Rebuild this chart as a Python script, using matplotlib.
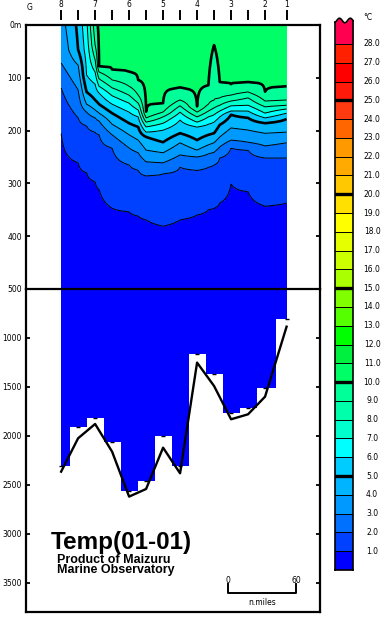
import matplotlib.pyplot as plt
import numpy as np

nan = np.nan

# bottom-profile grid columns (n.miles from St.8), stations on top
col_x = [0, 15, 30, 45, 60, 75, 90, 105, 120, 135, 150, 165, 180, 199]
station_x = [0, 30, 60, 90, 120, 150, 180, 199]
station_names = ['8', '7', '6', '5', '4', '3', '2', '1']

# positions where the temperature section was read (n.miles)
sec_x = [0, 15, 22.5, 30, 33.5, 45, 60, 68, 75, 90, 105, 120, 130, 135, 140, 150, 165, 180, 199]
surface_temp = [3.6, 5.2, 6.8, 9.6, 10.2, 10.5, 10.5, 10.5, 10.5, 10.5, 10.5, 10.5, 10.5,
                10.5, 10.5, 10.5, 10.5, 10.5, 10.5]
bottom_temp = 0.3

# depth (m) of each isotherm at sec_x (nan = isotherm not present)
iso_levels = [10, 9, 8, 7, 6, 5, 4, 3, 2, 1]
iso_10 = [nan, nan, nan, nan, 78, 85, 89, 104, 165, 148, 119, 155, 114, 38, 108, 112, 108, 127, 116]
iso_9 = [nan, nan, nan, 38, 89, 104, 116, 133, 176, 165, 142, 165, 150, 142, 138, 133, 127, 144, 142]
iso_8 = [nan, nan, nan, 66, 102, 119, 133, 148, 184, 174, 153, 174, 163, 157, 152, 144, 138, 155, 152]
iso_7 = [nan, nan, nan, 89, 116, 134, 148, 161, 193, 186, 165, 184, 174, 170, 163, 153, 152, 167, 159]
iso_6 = [nan, nan, 95, 112, 129, 150, 165, 174, 203, 199, 180, 193, 188, 184, 174, 163, 163, 176, 167]
iso_5 = [nan, 47, 127, 142, 150, 167, 186, 193, 212, 222, 205, 218, 208, 205, 189, 170, 176, 186, 178]
iso_4 = [nan, 76, 150, 161, 167, 188, 208, 218, 237, 242, 223, 237, 227, 223, 212, 195, 199, 205, 203]
iso_3 = [72, 123, 165, 176, 182, 208, 233, 242, 259, 261, 246, 250, 244, 241, 231, 218, 222, 229, 223]
iso_2 = [119, 176, 191, 203, 208, 233, 265, 275, 286, 282, 269, 275, 269, 265, 252, 233, 237, 252, 252]
iso_1 = [205, 261, 280, 297, 312, 347, 354, 362, 369, 381, 369, 360, 350, 347, 337, 301, 316, 343, 337]
iso_depths = [iso_10, iso_9, iso_8, iso_7, iso_6, iso_5, iso_4, iso_3, iso_2, iso_1]

# deepest observation and sea bottom (m)
obs_depth = [2305, 1910, 1814, 2066, 2560, 2458, 2005, 2305, 1164, 1368, 1764, 1712, 1508, 810]
bottom_depth = [2366, 2025, 1879, 2162, 2621, 2543, 2121, 2383, 1252, 1491, 1831, 1780, 1600, 885]

# colour scale
cb_levels = list(range(0, 29))
cb_colors = ['#0000ff', '#0040ff', '#0070ff', '#0099ff', '#00b4ff', '#00ccff', '#00ffff',
             '#00ffcc', '#00ffaa', '#00ff99', '#00ff66', '#00f040', '#00ff00', '#55ff00',
             '#80ff00', '#aaff00', '#ccff00', '#e6ff00', '#ffff00', '#ffe000', '#ffc800',
             '#ffaa00', '#ff9900', '#ff6600', '#ff3a10', '#ff1a0a', '#ff0000', '#ff2000']
top_color = '#ff0050'

# build temperature field
z = np.arange(0, 501, 2)
T = np.zeros((len(z), len(sec_x)))
for j in range(len(sec_x)):
    d = [0]
    t = [surface_temp[j]]
    for lev, arr in zip(iso_levels, iso_depths):
        if not np.isnan(arr[j]):
            d.append(arr[j])
            t.append(lev)
    d.append(500)
    t.append(bottom_temp)
    T[:, j] = np.interp(z, d, t)

W, H = 392, 629
fig = plt.figure(figsize=(W / 100, H / 100), dpi=100)
fig.patch.set_facecolor('white')

def fx(px):
    return px / W

def fy(py):
    return 1 - py / H

ax_top = fig.add_axes([fx(26), fy(289), fx(320) - fx(26), fy(25) - fy(289)])
ax_bot = fig.add_axes([fx(26), fy(612), fx(320) - fx(26), fy(289) - fy(612)])

xlim = (-31, 228.5)
ax_top.contourf(sec_x, z, T, levels=np.arange(0, 12), colors=cb_colors[:11])
lws = [1.9 if lev in (5, 10) else 0.7 for lev in range(1, 11)]
ax_top.contour(sec_x, z, T, levels=np.arange(1, 11), colors='black', linewidths=lws)
ax_top.set_xlim(xlim)
ax_top.set_ylim(500, 0)
ax_top.set_yticks([0, 100, 200, 300, 400, 500])
ax_top.set_yticklabels(['0m', '100', '200', '300', '400', '500'])
ax_top.spines['bottom'].set_visible(False)

ax_bot.fill_between(col_x, 500, obs_depth, step='mid', color='#0000ff', lw=0)
ax_bot.plot(col_x, bottom_depth, color='black', lw=1.7)
ax_bot.plot(col_x, obs_depth, ls='none', marker='_', ms=2.5, mew=1, color='black')
ax_bot.set_xlim(xlim)
ax_bot.set_ylim(3800, 500)
ax_bot.set_yticks([1000, 1500, 2000, 2500, 3000, 3500])

for ax in (ax_top, ax_bot):
    ax.set_xticks([])
    for s in ax.spines.values():
        s.set_linewidth(1.6)
    ax.tick_params(axis='y', direction='in', length=3, width=1.3, left=True, right=True,
                   labelsize=5.5, pad=3)

# station ticks and labels above the frame
trans = ax_top.get_xaxis_transform()
for x in col_x:
    ax_top.plot([x, x], [1.0227, 1.053], color='black', lw=1.4, transform=trans, clip_on=False)
for x, name in zip(station_x, station_names):
    ax_top.text(x, 1.076, name, transform=trans, ha='center', va='center', fontsize=5.5)
ax_top.text(-28, 1.068, 'G', transform=trans, ha='center', va='center', fontsize=5.5)

# scale bar
ax_bot.plot([147.5, 147.5, 207.5, 207.5], [3513, 3605, 3605, 3513], color='black', lw=1.4)
ax_bot.text(147.5, 3483, '0', ha='center', va='center', fontsize=5.5)
ax_bot.text(207.5, 3483, '60', ha='center', va='center', fontsize=5.5)
ax_bot.text(177.5, 3707, 'n.miles', ha='center', va='center', fontsize=5.5)

# titles
fig.text(fx(51), fy(543), 'Temp(01-01)', family='Liberation Sans', weight='bold',
         fontsize=17.5, ha='left', va='center')
fig.text(fx(57), fy(565), 'Product of Maizuru\nMarine Observatory', family='Liberation Sans',
         weight='bold', fontsize=9.0, ha='left', va='center', linespacing=0.8)

# colour bar
unit = 18.79
top_val = 28 + (44 - 17) / unit
cax = fig.add_axes([fx(335), fy(570), fx(353) - fx(335), fy(17) - fy(570)])
cax.set_xlim(0, 1)
cax.set_ylim(0, top_val)
cax.axis('off')
cax.bar(0.5, 1, bottom=cb_levels[:-1], width=1, color=cb_colors, lw=0)
xw = np.linspace(0, 1, 60)
wave = 29.25 + 0.12 * np.cos(2 * np.pi * (xw - 0.25) / 0.6)
cax.fill_between(xw, 28, wave, color=top_color, lw=0)
cax.plot(xw, wave, color='black', lw=1.2, clip_on=False)
for lev in cb_levels[1:]:
    cax.plot([0, 1], [lev, lev], color='black', lw=2.4 if lev % 5 == 0 else 0.7)
cax.plot([0, 0], [0, wave[0]], color='black', lw=1.2, clip_on=False)
cax.plot([1, 1], [0, wave[-1]], color='black', lw=1.2, clip_on=False)
cax.plot([0, 1], [0, 0], color='black', lw=1.2, clip_on=False)
for lev in cb_levels[1:]:
    cax.text(2.06, lev, f'{lev}.0', ha='center', va='center', fontsize=5.5, clip_on=False)
cax.text(1.83, top_val - 0.05, '\u00b0C', ha='center', va='center', fontsize=5.5, clip_on=False)

fig.savefig('out.png', dpi=100)
